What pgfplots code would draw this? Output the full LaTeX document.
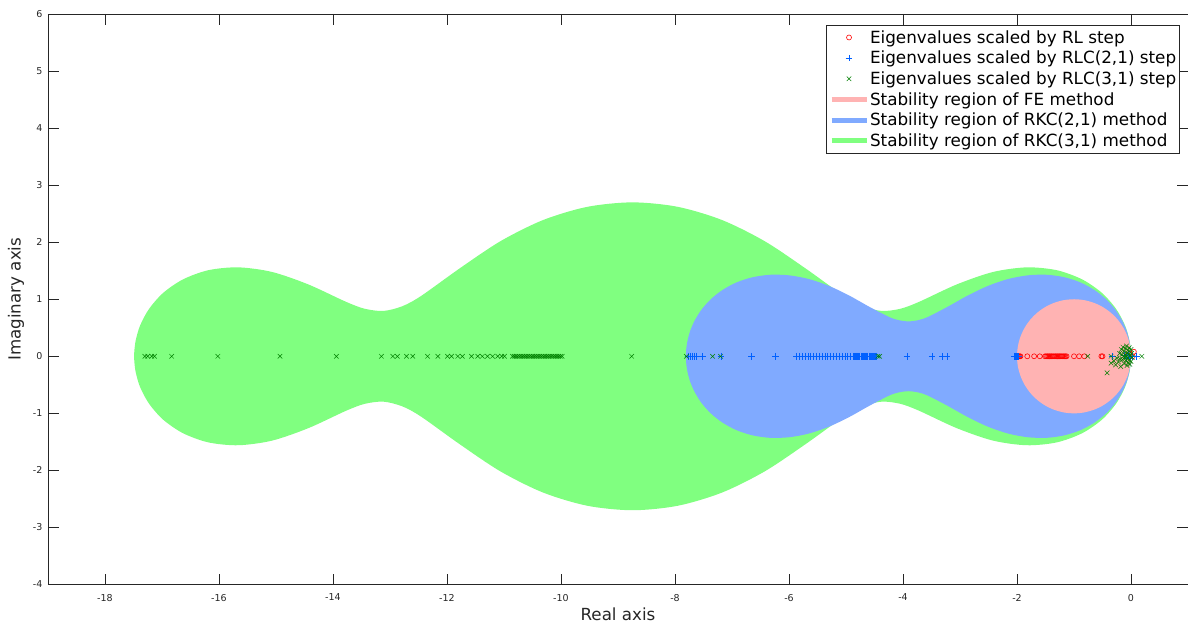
\documentclass[border=0pt]{standalone}
\usepackage{pgfplots}
\pgfplotsset{compat=1.18}
\usepackage{fontspec}
\setmainfont{DejaVu Sans}
\definecolor{axgray}{RGB}{38,38,38}
\definecolor{pinkfill}{RGB}{255,179,179}
\definecolor{bluefill}{RGB}{128,170,255}
\definecolor{greenfill}{RGB}{128,255,128}
\definecolor{plusblue}{RGB}{0,96,255}
\definecolor{xgreen}{RGB}{0,128,0}
\begin{document}
\begin{tikzpicture}
\begin{axis}[
  scale only axis, width=1141bp, height=571bp,
  xmin=-19, xmax=1, ymin=-4, ymax=6,
  xtick={-18,-16,...,0}, ytick={-4,-3,...,6},
  tick align=inside, major tick length=11bp,
  axis line style={axgray, line width=0.7bp},
  every tick/.style={axgray, line width=0.7bp},
  tick label style={font=\fontsize{9.5bp}{11bp}\selectfont, text=axgray},
  xticklabel style={yshift=-6bp},
  yticklabel style={xshift=-2bp},
  /pgf/number format/assume math mode=true,
  xlabel={Real axis}, ylabel={Imaginary axis},
  label style={font=\fontsize{16.7bp}{20bp}\selectfont, text=axgray},
  xlabel style={at={(axis description cs:0.5,0)}, anchor=center, yshift=-30bp},
  ylabel style={at={(axis description cs:0,0.5)}, anchor=center, yshift=32bp},
  legend image code/.code={\draw[mark repeat=2,mark phase=2,#1] plot coordinates {(0bp,0bp) (17.5bp,0bp) (35bp,0bp)};},
  legend cell align=left,
  legend style={at={(0.993,0.981)}, anchor=north east, draw=axgray, line width=0.7bp,
    font=\fontsize{16.8bp}{19bp}\selectfont, inner xsep=2.5bp, inner ysep=2bp,
    nodes={inner xsep=1bp, inner ysep=3.2bp},
    /tikz/every even column/.append style={column sep=0bp}},
]
% RKC(3,1) region
\addplot[smooth, fill=greenfill, draw=none, forget plot] coordinates {
(0,0) (-0.004,0.102) (-0.029,0.286) (-0.105,0.541) (-0.261,0.830) (-0.511,1.112) (-0.859,1.349) (-1.302,1.509) (-1.828,1.559) (-2.420,1.478) (-3.056,1.260) (-3.712,0.957) (-4.042,0.834) (-4.372,0.795) (-4.703,0.877) (-5.036,1.059) (-5.717,1.545) (-6.429,2.019) (-7.176,2.389) (-7.952,2.620) (-8.744,2.698) (-9.536,2.620) (-10.312,2.389) (-11.059,2.019) (-11.771,1.545) (-12.452,1.059) (-12.785,0.877) (-13.116,0.795) (-13.446,0.834) (-13.776,0.957) (-14.433,1.260) (-15.068,1.478) (-15.660,1.559) (-16.186,1.509) (-16.629,1.349) (-16.978,1.112) (-17.227,0.830) (-17.383,0.541) (-17.459,0.286) (-17.484,0.102) (-17.488,0)
(-17.484,-0.102) (-17.459,-0.286) (-17.383,-0.541) (-17.227,-0.830) (-16.978,-1.112) (-16.629,-1.349) (-16.186,-1.509) (-15.660,-1.559) (-15.068,-1.478) (-14.433,-1.260) (-13.776,-0.957) (-13.446,-0.834) (-13.116,-0.795) (-12.785,-0.877) (-12.452,-1.059) (-11.771,-1.545) (-11.059,-2.019) (-10.312,-2.389) (-9.536,-2.620) (-8.744,-2.698) (-7.952,-2.620) (-7.176,-2.389) (-6.429,-2.019) (-5.717,-1.545) (-5.036,-1.059) (-4.703,-0.877) (-4.372,-0.795) (-4.042,-0.834) (-3.712,-0.957) (-3.056,-1.260) (-2.420,-1.478) (-1.828,-1.559) (-1.302,-1.509) (-0.859,-1.349) (-0.511,-1.112) (-0.261,-0.830) (-0.105,-0.541) (-0.029,-0.286) (-0.004,-0.102) (0,0)
} -- cycle;
% RKC(2,1) region
\addplot[smooth, fill=bluefill, draw=none, forget plot] coordinates {
(0,0) (-0.001,0.060) (-0.009,0.153) (-0.031,0.285) (-0.077,0.449) (-0.157,0.631) (-0.276,0.820) (-0.437,1.001) (-0.642,1.162) (-0.886,1.294) (-1.167,1.385) (-1.477,1.429) (-1.809,1.419) (-2.157,1.354) (-2.511,1.233) (-2.866,1.064) (-3.217,0.868) (-3.563,0.690) (-3.734,0.633) (-3.904,0.612) (-4.075,0.633) (-4.246,0.690) (-4.591,0.868) (-4.942,1.064) (-5.297,1.233) (-5.652,1.354) (-5.999,1.419) (-6.332,1.429) (-6.642,1.385) (-6.922,1.294) (-7.167,1.162) (-7.371,1.001) (-7.533,0.820) (-7.652,0.631) (-7.732,0.449) (-7.778,0.285) (-7.800,0.153) (-7.807,0.060) (-7.808,0)
(-7.807,-0.060) (-7.800,-0.153) (-7.778,-0.285) (-7.732,-0.449) (-7.652,-0.631) (-7.533,-0.820) (-7.371,-1.001) (-7.167,-1.162) (-6.922,-1.294) (-6.642,-1.385) (-6.332,-1.429) (-5.999,-1.419) (-5.652,-1.354) (-5.297,-1.233) (-4.942,-1.064) (-4.591,-0.868) (-4.246,-0.690) (-4.075,-0.633) (-3.904,-0.612) (-3.734,-0.633) (-3.563,-0.690) (-3.217,-0.868) (-2.866,-1.064) (-2.511,-1.233) (-2.157,-1.354) (-1.809,-1.419) (-1.477,-1.429) (-1.167,-1.385) (-0.886,-1.294) (-0.642,-1.162) (-0.437,-1.001) (-0.276,-0.820) (-0.157,-0.631) (-0.077,-0.449) (-0.031,-0.285) (-0.009,-0.153) (-0.001,-0.060) (0,0)
} -- cycle;
% FE region
\addplot[smooth, fill=pinkfill, draw=none, forget plot] coordinates {
(0,0) (-0.0152,0.1736) (-0.0603,0.3420) (-0.1340,0.5) (-0.2340,0.6428) (-0.3572,0.7660) (-0.5,0.8660) (-0.6580,0.9397) (-0.8264,0.9848) (-1,1) (-1.1736,0.9848) (-1.3420,0.9397) (-1.5,0.8660) (-1.6428,0.7660) (-1.7660,0.6428) (-1.8660,0.5) (-1.9397,0.3420) (-1.9848,0.1736) (-2,0)
(-1.9848,-0.1736) (-1.9397,-0.3420) (-1.8660,-0.5) (-1.7660,-0.6428) (-1.6428,-0.7660) (-1.5,-0.8660) (-1.3420,-0.9397) (-1.1736,-0.9848) (-1,-1) (-0.8264,-0.9848) (-0.6580,-0.9397) (-0.5,-0.8660) (-0.3572,-0.7660) (-0.2340,-0.6428) (-0.1340,-0.5) (-0.0603,-0.3420) (-0.0152,-0.1736) (0,0)
} -- cycle;
% Eigenvalues, RL step
\addplot[only marks, mark=o, red, mark size=2.5bp, line width=0.6bp] coordinates {
(-2.00,0) (-1.985,0) (-1.97,0) (-1.955,0) (-1.94,0) (-1.82,0) (-1.70,0) (-1.60,0) (-1.51,0)
(-1.49,0) (-1.47,0) (-1.45,0) (-1.43,0) (-1.41,0) (-1.39,0) (-1.37,0) (-1.35,0) (-1.33,0) (-1.31,0)
(-1.29,0) (-1.27,0) (-1.25,0) (-1.23,0) (-1.21,0) (-1.19,0) (-1.17,0) (-1.15,0) (-1.13,0)
(-1.00,0) (-0.91,0) (-0.82,0) (-0.52,0) (-0.50,0) (-0.06,0.02) (-0.02,0.05) (0.03,0) (0.05,0.08)
};
\addlegendentry{Eigenvalues scaled by RL step}
% Eigenvalues, RLC(2,1) step
\addplot[only marks, mark=+, color=plusblue, draw=plusblue, mark size=3.3bp, line width=0.6bp] coordinates {
(-7.77,0) (-7.73,0) (-7.70,0) (-7.66,0) (-7.62,0) (-7.52,0) (-7.19,0) (-6.66,0) (-6.24,0)
(-5.87,0) (-5.82,0) (-5.77,0) (-5.72,0) (-5.67,0) (-5.62,0) (-5.57,0) (-5.52,0) (-5.47,0) (-5.42,0)
(-5.37,0) (-5.32,0) (-5.27,0) (-5.22,0) (-5.17,0) (-5.12,0) (-5.07,0) (-5.02,0) (-4.97,0) (-4.92,0)
(-4.88,0) (-4.86,0) (-4.84,0) (-4.82,0) (-4.80,0) (-4.78,0) (-4.76,0) (-4.74,0) (-4.72,0) (-4.70,0)
(-4.68,0) (-4.66,0) (-4.64,0) (-4.62,0) (-4.60,0) (-4.58,0) (-4.56,0) (-4.54,0) (-4.52,0) (-4.50,0)
(-4.48,0) (-4.46,0) (-3.93,0) (-3.49,0) (-3.31,0) (-3.23,0)
(-2.05,0) (-2.03,0) (-2.01,0) (-1.99,0) (-1.97,0) (-0.33,0) (0.10,0)
(-0.12,0.02) (-0.08,-0.03) (-0.05,0.04) (-0.02,-0.01) (0.02,0)
};
\addlegendentry{Eigenvalues scaled by RLC(2,1) step}
% Eigenvalues, RLC(3,1) step
\addplot[only marks, mark=x, xgreen, mark size=3.2bp, line width=0.5bp] coordinates {
(-17.30,0) (-17.25,0) (-17.18,0) (-17.13,0) (-16.83,0) (-16.02,0) (-14.93,0) (-13.94,0)
(-13.15,0) (-12.95,0) (-12.87,0) (-12.71,0) (-12.60,0) (-12.34,0) (-12.16,0) (-11.99,0) (-11.92,0)
(-11.81,0) (-11.73,0) (-11.57,0) (-11.46,0) (-11.38,0) (-11.29,0) (-11.20,0) (-11.11,0) (-11.04,0) (-10.99,0)
(-10.85,0) (-10.82,0) (-10.79,0) (-10.76,0) (-10.73,0) (-10.70,0) (-10.67,0) (-10.64,0) (-10.61,0) (-10.58,0)
(-10.55,0) (-10.52,0) (-10.49,0) (-10.46,0) (-10.43,0) (-10.40,0) (-10.37,0) (-10.34,0) (-10.31,0) (-10.28,0)
(-10.25,0) (-10.22,0) (-10.19,0) (-10.16,0) (-10.13,0) (-10.10,0) (-10.07,0) (-10.04,0) (-10.01,0) (-9.98,0)
(-8.76,0) (-7.80,0) (-7.34,0) (-7.20,0) (-4.44,0) (-4.41,0) (-0.76,0) (-0.35,0) (0.19,0)
(-0.42,-0.29) (-0.35,-0.12) (-0.30,-0.08) (-0.27,-0.15) (-0.25,-0.03) (-0.22,-0.10) (-0.20,0.05)
(-0.18,-0.18) (-0.17,0.12) (-0.15,-0.06) (-0.14,0.16) (-0.12,0.09) (-0.12,-0.13) (-0.10,0.02)
(-0.10,0.14) (-0.09,-0.08) (-0.08,0.18) (-0.07,0.06) (-0.07,-0.16) (-0.06,-0.03) (-0.05,0.11)
(-0.05,-0.11) (-0.04,0.03) (-0.03,0.15) (-0.03,-0.06) (-0.02,0.08) (-0.02,-0.14) (-0.01,0.01)
(0.0,0.12) (0.0,-0.09) (0.01,0.05) (0.02,-0.02) (-0.13,0.0) (-0.16,0.03) (-0.19,-0.05) (-0.11,-0.02) (-0.08,0.0)
};
\addlegendentry{Eigenvalues scaled by RLC(3,1) step}
\addlegendimage{line width=5bp, color=pinkfill}
\addlegendentry{Stability region of FE method}
\addlegendimage{line width=5bp, color=bluefill}
\addlegendentry{Stability region of RKC(2,1) method}
\addlegendimage{line width=5bp, color=greenfill}
\addlegendentry{Stability region of RKC(3,1) method}
\end{axis}
\pgfresetboundingbox
\path[use as bounding box] ([xshift=-48bp,yshift=-42bp]current axis.south west) rectangle ([yshift=14bp]current axis.north east);
\end{tikzpicture}
\end{document}
